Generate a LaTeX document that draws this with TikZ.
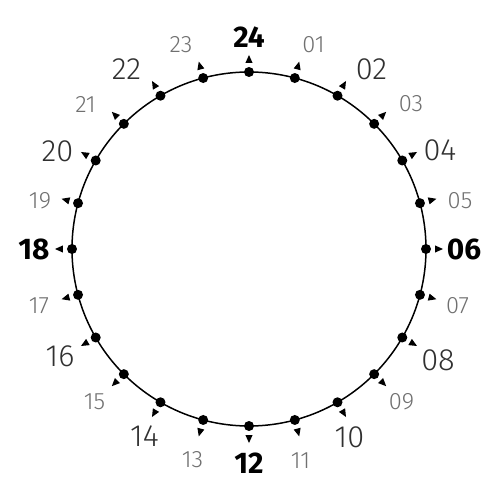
\documentclass[tikz,border=0pt]{standalone}
\usepackage{fontspec}
\setmainfont{Fira Sans}
\newfontfamily\lightf{Fira Sans Light}
\definecolor{oddgray}{HTML}{707070}
\definecolor{evengray}{HTML}{303030}
\tikzset{
  dotst/.style={circle,fill=black,inner sep=0pt,minimum size=10*0.02cm},
  tick/.style={fill=black},
  oddlab/.style={text=oddgray,font=\lightf\fontsize{13.5}{13.5}\selectfont,inner sep=0pt},
  evenlab/.style={text=evengray,font=\lightf\fontsize{17.5}{17.5}\selectfont,inner sep=0pt},
  cardlab/.style={text=black,font=\fontsize{17}{17}\selectfont\bfseries,inner sep=0pt},
}
\begin{document}
\begin{tikzpicture}[x=0.02cm,y=0.02cm]
\useasboundingbox (-249,-251) rectangle (251,249);
\node[circle,draw,line width=0.85pt,minimum size=354*0.02cm,inner sep=0pt] (ring) at (0,0) {};
\foreach \h in {1,...,24} {
  \pgfmathsetmacro\a{90-15*\h}
  \node[dotst] (d\h) at (\a:177) {};
  \fill[tick,rotate=\a] (194,0) -- (186,3.6) -- (186,-3.6) -- cycle;
}
\foreach \t/\s/\x/\y in {01/oddlab/64.5/204.5, 02/evenlab/122.5/179.5, 03/oddlab/162/145,
  04/evenlab/191/99, 05/oddlab/211/48, 06/cardlab/215/0, 07/oddlab/208.5/-56.5,
  08/evenlab/189/-111, 09/oddlab/152.5/-152.5, 10/evenlab/100.5/-188.5, 11/oddlab/51.5/-212,
  12/cardlab/0/-214, 13/oddlab/-56.5/-210.5, 14/evenlab/-104.5/-187.5, 15/oddlab/-154.5/-152.5,
  16/evenlab/-189/-107.5, 17/oddlab/-210/-57, 18/cardlab/-215/0, 19/oddlab/-209/48.5,
  20/evenlab/-191.5/98, 21/oddlab/-163.5/144.5, 22/evenlab/-122.5/179.5, 23/oddlab/-68/204.5,
  24/cardlab/0/212} {
  \node[\s] (l\t) at (\x,\y) {\t};
}
\end{tikzpicture}
\end{document}
